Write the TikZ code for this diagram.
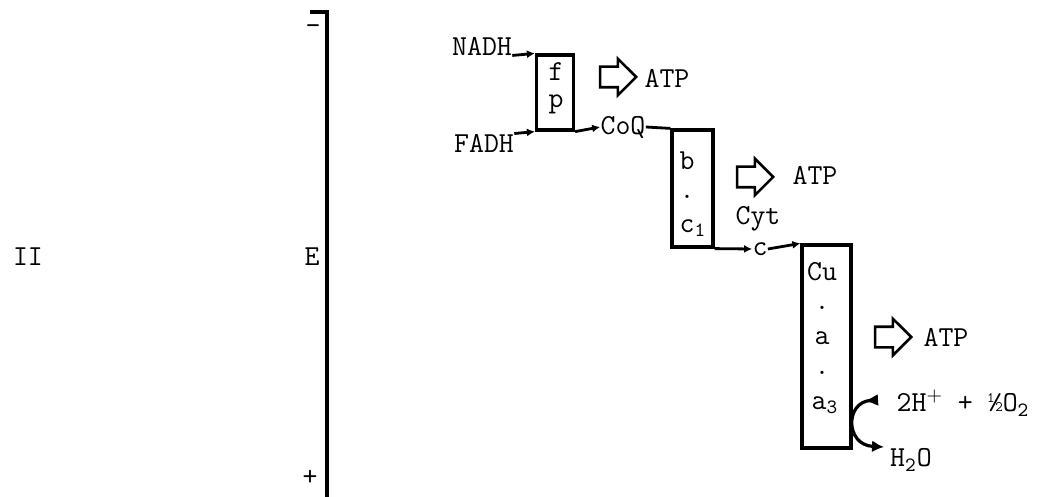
\documentclass[tikz,border=0pt]{standalone}
\usepackage{tikz}
\usetikzlibrary{shapes.arrows,arrows.meta}
\pgfdeclarelayer{edgelayer}
\pgfdeclarelayer{nodelayer}
\pgfsetlayers{edgelayer,nodelayer,main}
\tikzstyle{word}=[font=\ttfamily\fontsize{14.5}{16}\selectfont, inner sep=0pt]
\tikzstyle{carrier}=[rectangle, draw=black, fill=white, line width=1.6pt]
\tikzstyle{pump}=[single arrow, draw=black, fill=white, line width=1.3pt, minimum height=18pt, minimum width=17pt, inner sep=4.5pt, single arrow head extend=4pt]
\tikzstyle{edge}=[draw=black, line width=1.4pt]
\tikzstyle{flow}=[draw=black, line width=1.4pt, -{Latex[length=4pt,width=4pt]}]

\begin{document}
\begin{tikzpicture}[x=0.5pt, y=-0.5pt]
				\useasboundingbox (0,0) rectangle (1049,497);
				\coordinate (tick) at (310,12);
				\coordinate (top) at (327,12);
				\coordinate (bottom) at (327,497);
				\coordinate (in) at (878,400);
				\coordinate (out) at (884,447);
				\begin{pgfonlayer}{nodelayer}
					\node [style=word] (ii) at (28,257) {II};
					\node [style=word] (minus) at (313,30) {-};
					\node [style=word] (e) at (312,257) {E};
					\node [style=word] (plus) at (310,478) {+};
					\node [style=word] (nadh) at (482,46) {NADH};
					\node [style=word] (fadh) at (484,143) {FADH};
					\node [style=carrier, minimum width=18.5pt, minimum height=37.5pt] (fp) at (555,92.5) {};
					\node [style=word] (f) at (556,72) {f};
					\node [style=word] (p) at (556,104) {p};
					\node [style=pump] (pump1) at (613,77) {};
					\node [style=word] (atp1) at (667,78) {ATP};
					\node [style=word] (coq) at (623,127) {CoQ};
					\node [style=carrier, minimum width=20.5pt, minimum height=58.5pt] (bc) at (692.5,188.5) {};
					\node [style=word] (b) at (687,161) {b};
					\node [style=word] (dot1) at (687,197) {.};
					\node [style=word] (c1) at (693,228) {c\textsubscript{1}};
					\node [style=pump] (pump2) at (750,177) {};
					\node [style=word] (atp2) at (815,175) {ATP};
					\node [style=word] (cyt) at (758,219) {Cyt};
					\node [style=word] (c) at (760,249) {c};
					\node [style=carrier, minimum width=24.5pt, minimum height=101.5pt] (cua) at (826.5,346.5) {};
					\node [style=word] (cu) at (822,272) {Cu};
					\node [style=word] (dot2) at (822,308) {.};
					\node [style=word] (a) at (822,338) {a};
					\node [style=word] (dot3) at (822,373) {.};
					\node [style=word] (a3) at (825,405) {a\textsubscript{3}};
					\node [style=pump] (pump3) at (888,337) {};
					\node [style=word] (atp3) at (946,337) {ATP};
					\node [style=word] (o2) at (963,403) {2H$^{+}$ + \textonehalf O\textsubscript{2}};
					\node [style=word] (h2o) at (911,460) {H\textsubscript{2}O};
				\end{pgfonlayer}
				\begin{pgfonlayer}{edgelayer}
					\draw [line width=2pt] (tick) -- (top) -- (bottom);
					\draw [style=flow] (nadh.south east) -- (fp.north west);
					\draw [style=flow] (fadh.north east) -- (fp.south west);
					\draw [style=flow] (fp.south east) -- (coq.west);
					\draw [style=edge] (coq.east) -- (bc.north west);
					\draw [style=flow] (bc.south east) -- (c.west);
					\draw [style=flow] (c.east) -- (cua.north west);
					\draw [style=flow, line width=1.6pt, {Latex[reversed,length=7pt,width=6pt]}-{Latex[length=6pt,width=6pt]}] (in) .. controls (845,402) and (845,445) .. (out);
				\end{pgfonlayer}
			\end{tikzpicture}
\end{document}
